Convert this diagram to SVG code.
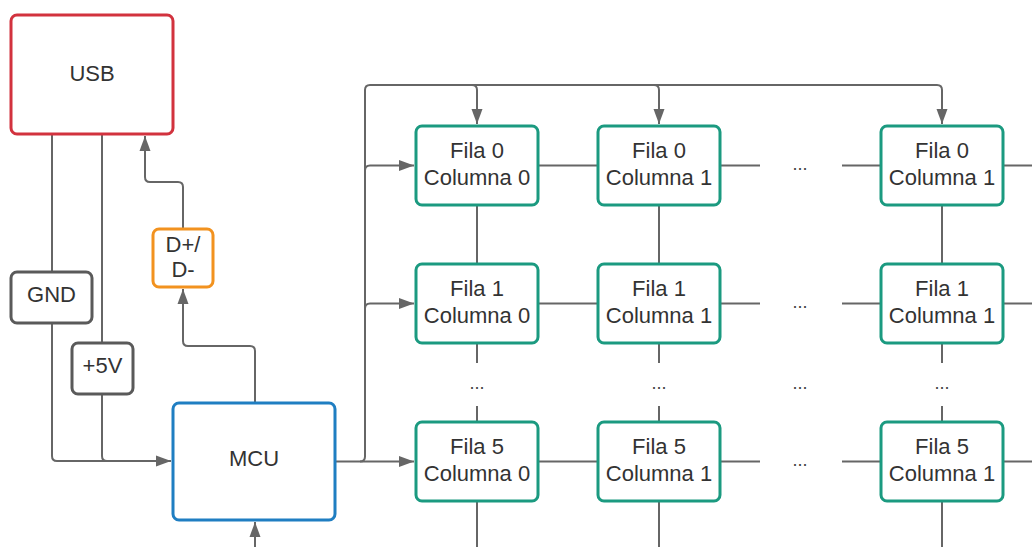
<svg xmlns="http://www.w3.org/2000/svg" width="1032" height="547" viewBox="0 0 1032 547">
<style>
.box{fill:#fff;stroke-width:3}
.red{stroke:#d2323e}.org{stroke:#f2921f}.gry{stroke:#5a5a5a}.blu{stroke:#1f7ec2}.grn{stroke:#1b9a80}
.t{font-family:"Liberation Sans",Arial,sans-serif;font-size:22px;fill:#333;text-anchor:middle}
.d{font-family:"Liberation Sans",Arial,sans-serif;font-size:18px;fill:#444;text-anchor:middle}
.c{fill:none;stroke:#666;stroke-width:2}
.a{marker-end:url(#ah)}
</style>
<defs>
<marker id="ah" markerUnits="userSpaceOnUse" markerWidth="16" markerHeight="12" refX="15" refY="6" orient="auto">
<path d="M0,0.5 L15,6 L0,11.5 z" fill="#666"/>
</marker>
</defs>
<g id="connectors">
<path class="c" d="M52,134 V272"/>
<path class="c a" d="M52,323 V456 Q52,461 57,461 H171"/>
<path class="c" d="M102,134 V343"/>
<path class="c" d="M102,394 V456 Q102,461 107,461 H130"/>
<path class="c a" d="M183,229 V187 Q183,182 178,182 H150 Q145,182 145,177 V136"/>
<path class="c a" d="M255,403 V351 Q255,346 250,346 H188 Q183,346 183,341 V289"/>
<path class="c a" d="M255,547 V522"/>
<path class="c a" d="M335,461.5 H414"/>
<path class="c a" d="M360,461.5 Q365,461.5 365,456.5 V90 Q365,85 370,85 H937 Q942,85 942,90 V124"/>
<path class="c a" d="M472,85 Q477,85 477,90 V124"/>
<path class="c a" d="M654,85 Q659,85 659,90 V124"/>
<path class="c a" d="M365,170.5 Q365,165.5 370,165.5 H414"/>
<path class="c a" d="M365,308.5 Q365,303.5 370,303.5 H414"/>
<path class="c" d="M538,165.5 H598 M720,165.5 H760 M842,165.5 H881 M1003,165.5 H1032"/>
<path class="c" d="M538,303.5 H598 M720,303.5 H760 M842,303.5 H881 M1003,303.5 H1032"/>
<path class="c" d="M538,461.5 H598 M720,461.5 H760 M842,461.5 H881 M1003,461.5 H1032"/>
<path class="c" d="M477,205 V264 M477,343 V363 M477,406 V422 M477,501 V547"/>
<path class="c" d="M659,205 V264 M659,343 V363 M659,406 V422 M659,501 V547"/>
<path class="c" d="M942,205 V264 M942,343 V363 M942,406 V422 M942,501 V547"/>
<text class="d" x="800" y="170">...</text>
<text class="d" x="800" y="308">...</text>
<text class="d" x="800" y="466">...</text>
<text class="d" x="477" y="389">...</text>
<text class="d" x="659" y="389">...</text>
<text class="d" x="800" y="389">...</text>
<text class="d" x="942" y="389">...</text>
</g>
<g id="usb"><rect class="box red" x="11" y="15" width="162" height="119" rx="6"/><text class="t" x="92" y="81">USB</text></g>
<g id="gnd"><rect class="box gry" x="11" y="272" width="81" height="51" rx="6"/><text class="t" x="51.5" y="302">GND</text></g>
<g id="v5"><rect class="box gry" x="72" y="343" width="61" height="51" rx="6"/><text class="t" x="102.5" y="373">+5V</text></g>
<g id="dpm"><rect class="box org" x="153" y="229" width="60" height="58" rx="6"/><text class="t" x="183" y="252">D+/</text><text class="t" x="183" y="277">D-</text></g>
<g id="mcu"><rect class="box blu" x="173" y="403" width="162" height="117" rx="6"/><text class="t" x="254" y="466">MCU</text></g>
<g id="r0c0"><rect class="box grn" x="416" y="126" width="122" height="79" rx="6"/><text class="t" x="477" y="158">Fila 0</text><text class="t" x="477" y="184.5">Columna 0</text></g>
<g id="r0c1"><rect class="box grn" x="598" y="126" width="122" height="79" rx="6"/><text class="t" x="659" y="158">Fila 0</text><text class="t" x="659" y="184.5">Columna 1</text></g>
<g id="r0cn"><rect class="box grn" x="881" y="126" width="122" height="79" rx="6"/><text class="t" x="942" y="158">Fila 0</text><text class="t" x="942" y="184.5">Columna 1</text></g>
<g id="r1c0"><rect class="box grn" x="416" y="264" width="122" height="79" rx="6"/><text class="t" x="477" y="296">Fila 1</text><text class="t" x="477" y="322.5">Columna 0</text></g>
<g id="r1c1"><rect class="box grn" x="598" y="264" width="122" height="79" rx="6"/><text class="t" x="659" y="296">Fila 1</text><text class="t" x="659" y="322.5">Columna 1</text></g>
<g id="r1cn"><rect class="box grn" x="881" y="264" width="122" height="79" rx="6"/><text class="t" x="942" y="296">Fila 1</text><text class="t" x="942" y="322.5">Columna 1</text></g>
<g id="r5c0"><rect class="box grn" x="416" y="422" width="122" height="79" rx="6"/><text class="t" x="477" y="454">Fila 5</text><text class="t" x="477" y="480.5">Columna 0</text></g>
<g id="r5c1"><rect class="box grn" x="598" y="422" width="122" height="79" rx="6"/><text class="t" x="659" y="454">Fila 5</text><text class="t" x="659" y="480.5">Columna 1</text></g>
<g id="r5cn"><rect class="box grn" x="881" y="422" width="122" height="79" rx="6"/><text class="t" x="942" y="454">Fila 5</text><text class="t" x="942" y="480.5">Columna 1</text></g>
</svg>
